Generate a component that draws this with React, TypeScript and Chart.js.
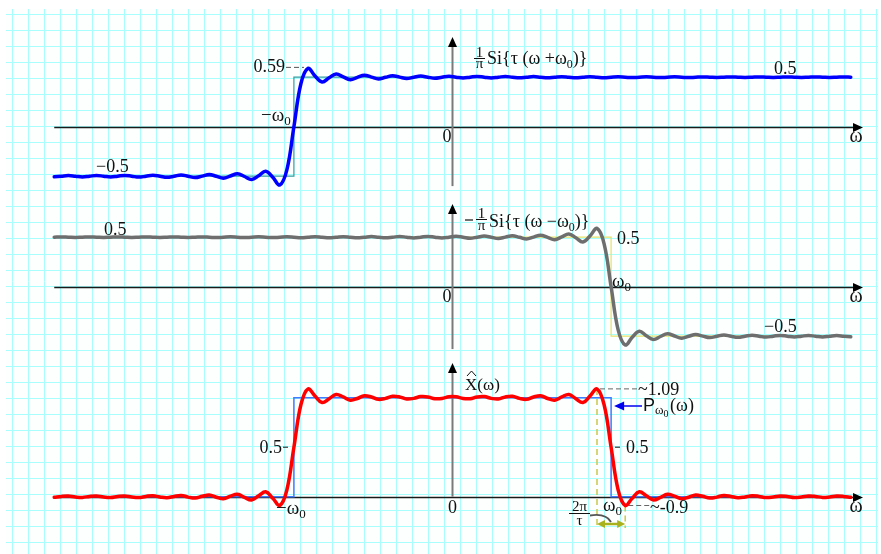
import React, { useEffect, useRef } from 'react';
import { Chart, registerables } from 'chart.js';

Chart.register(...registerables);

// ω sample positions (units of π/τ, ω0 = 11.25)
const OMEGA = [
  -28.25, -27.75, -27.25, -26.75, -26.25, -25.75, -25.25, -24.75, -24.25, -23.75,
  -23.25, -22.75, -22.25, -21.75, -21.25, -20.75, -20.25, -19.75, -19.25, -18.75,
  -18.25, -17.75, -17.25, -16.75, -16.25, -15.75, -15.25, -14.75, -14.25, -13.75,
  -13.25, -12.75, -12.25, -11.75, -11.25, -10.75, -10.25, -9.75, -9.25, -8.75,
  -8.25, -7.75, -7.25, -6.75, -6.25, -5.75, -5.25, -4.75, -4.25, -3.75,
  -3.25, -2.75, -2.25, -1.75, -1.25, -0.75, -0.25, 0.25, 0.75, 1.25,
  1.75, 2.25, 2.75, 3.25, 3.75, 4.25, 4.75, 5.25, 5.75, 6.25,
  6.75, 7.25, 7.75, 8.25, 8.75, 9.25, 9.75, 10.25, 10.75, 11.25,
  11.75, 12.25, 12.75, 13.25, 13.75, 14.25, 14.75, 15.25, 15.75, 16.25,
  16.75, 17.25, 17.75, 18.25, 18.75, 19.25, 19.75, 20.25, 20.75, 21.25,
  21.75, 22.25, 22.75, 23.25, 23.75, 24.25, 24.75, 25.25, 25.75, 26.25,
  26.75, 27.25, 27.75, 28.25,
];

const OMEGA0 = 11.25;

// (1/π) Si{τ(ω+ω0)}
const TOP_SERIES = [
  -0.506, -0.5, -0.494, -0.5, -0.507, -0.5, -0.493, -0.5, -0.508, -0.5,
  -0.492, -0.5, -0.509, -0.5, -0.49, -0.5, -0.511, -0.5, -0.487, -0.501,
  -0.514, -0.499, -0.483, -0.501, -0.52, -0.498, -0.475, -0.503, -0.533, -0.495,
  -0.451, -0.511, -0.589, -0.436, 0, 0.436, 0.589, 0.511, 0.451, 0.495,
  0.533, 0.503, 0.475, 0.498, 0.52, 0.501, 0.483, 0.499, 0.514, 0.501,
  0.487, 0.5, 0.511, 0.5, 0.49, 0.5, 0.509, 0.5, 0.492, 0.5,
  0.508, 0.5, 0.493, 0.5, 0.507, 0.5, 0.494, 0.5, 0.506, 0.5,
  0.494, 0.5, 0.505, 0.5, 0.495, 0.5, 0.505, 0.5, 0.495, 0.5,
  0.504, 0.5, 0.496, 0.5, 0.504, 0.5, 0.496, 0.5, 0.504, 0.5,
  0.496, 0.5, 0.503, 0.5, 0.497, 0.5, 0.503, 0.5, 0.497, 0.5,
  0.503, 0.5, 0.497, 0.5, 0.503, 0.5, 0.497, 0.5, 0.503, 0.5,
  0.497, 0.5, 0.503, 0.5,
];

// -(1/π) Si{τ(ω-ω0)}
const MIDDLE_SERIES = [
  0.5, 0.503, 0.5, 0.497, 0.5, 0.503, 0.5, 0.497, 0.5, 0.503,
  0.5, 0.497, 0.5, 0.503, 0.5, 0.497, 0.5, 0.503, 0.5, 0.497,
  0.5, 0.503, 0.5, 0.496, 0.5, 0.504, 0.5, 0.496, 0.5, 0.504,
  0.5, 0.496, 0.5, 0.504, 0.5, 0.495, 0.5, 0.505, 0.5, 0.495,
  0.5, 0.505, 0.5, 0.494, 0.5, 0.506, 0.5, 0.494, 0.5, 0.507,
  0.5, 0.493, 0.5, 0.508, 0.5, 0.492, 0.5, 0.509, 0.5, 0.49,
  0.5, 0.511, 0.5, 0.487, 0.501, 0.514, 0.499, 0.483, 0.501, 0.52,
  0.498, 0.475, 0.503, 0.533, 0.495, 0.451, 0.511, 0.589, 0.436, 0,
  -0.436, -0.589, -0.511, -0.451, -0.495, -0.533, -0.503, -0.475, -0.498, -0.52,
  -0.501, -0.483, -0.499, -0.514, -0.501, -0.487, -0.5, -0.511, -0.5, -0.49,
  -0.5, -0.509, -0.5, -0.492, -0.5, -0.508, -0.5, -0.493, -0.5, -0.507,
  -0.5, -0.494, -0.5, -0.506,
];

// X̂(ω)
const BOTTOM_SERIES = [
  -0.006, 0.003, 0.006, -0.003, -0.007, 0.003, 0.007, -0.003, -0.008, 0.003,
  0.008, -0.003, -0.009, 0.003, 0.01, -0.003, -0.011, 0.003, 0.013, -0.004,
  -0.014, 0.004, 0.017, -0.005, -0.02, 0.006, 0.025, -0.007, -0.033, 0.009,
  0.049, -0.015, -0.089, 0.068, 0.5, 0.931, 1.089, 1.016, 0.951, 0.99,
  1.033, 1.008, 0.975, 0.992, 1.02, 1.007, 0.983, 0.993, 1.014, 1.008,
  0.987, 0.993, 1.011, 1.008, 0.99, 0.992, 1.009, 1.009, 0.992, 0.99,
  1.008, 1.011, 0.993, 0.987, 1.008, 1.014, 0.993, 0.983, 1.007, 1.02,
  0.992, 0.975, 1.008, 1.033, 0.99, 0.951, 1.016, 1.089, 0.931, 0.5,
  0.068, -0.089, -0.015, 0.049, 0.009, -0.033, -0.007, 0.025, 0.006, -0.02,
  -0.005, 0.017, 0.004, -0.014, -0.004, 0.013, 0.003, -0.011, -0.003, 0.01,
  0.003, -0.009, -0.003, 0.008, 0.003, -0.008, -0.003, 0.007, 0.003, -0.007,
  -0.003, 0.006, 0.003, -0.006,
];

// ideal step / rectangle functions
const TOP_STEP_X = [-28.25, -11.25, -11.25, 28.25];
const TOP_STEP_Y = [-0.5, -0.5, 0.5, 0.5];
const MID_STEP_X = [-28.25, 11.25, 11.25, 28.25];
const MID_STEP_Y = [0.5, 0.5, -0.5, -0.5];
const RECT_X = [-28.25, -11.25, -11.25, 11.25, 11.25, 28.25];
const RECT_Y = [0, 0, 1, 1, 0, 0];

// annotated values
const TOP_PEAK = 0.589;
const BOTTOM_PEAK = 1.089;
const BOTTOM_TROUGH = -0.089;

// layout
const PANEL_OFFSETS = [0, -1.6162, -3.7374];
const X_MIN = -32.097;
const X_MAX = 30.394;
const Y_MIN = -4.3162;
const Y_MAX = 1.2798;

const SERIF = "'Liberation Serif', 'Times New Roman', serif";
const SANS = "'Liberation Sans', Arial, sans-serif";
const INK = '#111111';
const LBL = 18;

function pts(xs: number[], ys: number[], off: number) {
  return xs.map((x, i) => ({ x, y: ys[i] + off }));
}

function text(
  ctx: CanvasRenderingContext2D,
  s: string,
  x: number,
  y: number,
  size: number,
  align: CanvasTextAlign = 'left',
  font: string = SERIF,
  color: string = INK
): number {
  ctx.font = `${size}px ${font}`;
  ctx.fillStyle = color;
  ctx.textAlign = align;
  ctx.textBaseline = 'alphabetic';
  ctx.fillText(s, x, y);
  const w = ctx.measureText(s).width;
  if (align === 'right') return x;
  if (align === 'center') return x + w / 2;
  return x + w;
}

function seg(ctx: CanvasRenderingContext2D, x1: number, y1: number, x2: number, y2: number) {
  ctx.beginPath();
  ctx.moveTo(x1, y1);
  ctx.lineTo(x2, y2);
  ctx.stroke();
}

function tri(ctx: CanvasRenderingContext2D, p: number[][]) {
  ctx.beginPath();
  ctx.moveTo(p[0][0], p[0][1]);
  ctx.lineTo(p[1][0], p[1][1]);
  ctx.lineTo(p[2][0], p[2][1]);
  ctx.closePath();
  ctx.fill();
}

const overlay = {
  id: 'overlay',
  beforeDraw(chart: any) {
    const ctx = chart.ctx as CanvasRenderingContext2D;
    const W = chart.width;
    const H = chart.height;
    ctx.save();
    ctx.fillStyle = '#ffffff';
    ctx.fillRect(0, 0, W, H);
    ctx.fillStyle = '#fdfefe';
    ctx.fillRect(6, 9, 872, H - 9);
    ctx.strokeStyle = '#a8fdfd';
    ctx.lineWidth = 1;
    ctx.beginPath();
    for (let gx = 12.5; gx < 878; gx += 16) {
      ctx.moveTo(gx, 9);
      ctx.lineTo(gx, H);
    }
    for (let gy = 14.5; gy < H; gy += 16) {
      ctx.moveTo(6, gy);
      ctx.lineTo(878, gy);
    }
    ctx.stroke();
    ctx.restore();
  },
  beforeDatasetsDraw(chart: any) {
    const ctx = chart.ctx as CanvasRenderingContext2D;
    const xs = chart.scales.x;
    const ys = chart.scales.y;
    const X = (w: number) => xs.getPixelForValue(w);
    const Y = (v: number, p: number) => ys.getPixelForValue(v + PANEL_OFFSETS[p]);
    ctx.save();
    const xL = X(OMEGA[0]);
    const tip = 863;
    // horizontal axes
    for (let p = 0; p < 3; p++) {
      const ya = Math.round(Y(0, p)) + 0.5;
      ctx.strokeStyle = '#1a1a1a';
      ctx.lineWidth = 1.4;
      seg(ctx, xL, ya, tip - 6, ya);
      ctx.fillStyle = '#000';
      tri(ctx, [[tip, ya], [tip - 10, ya - 4.5], [tip - 10, ya + 4.5]]);
    }
    // vertical axes
    const x0 = X(0);
    const vr = [
      [Y(0.905, 0), Y(-0.6, 0)],
      [Y(0.835, 1), Y(-0.63, 1)],
      [Y(1.35, 2), Y(0, 2)],
    ];
    for (const [yt, yb] of vr) {
      ctx.strokeStyle = '#7a7a7a';
      ctx.lineWidth = 2;
      seg(ctx, x0, yb, x0, yt + 6);
      ctx.fillStyle = '#000';
      tri(ctx, [[x0, yt], [x0 - 4.5, yt + 10], [x0 + 4.5, yt + 10]]);
    }
    // top panel leader for 0.59
    ctx.strokeStyle = '#555';
    ctx.lineWidth = 1;
    ctx.setLineDash([5, 3]);
    const yTopPk = Y(TOP_PEAK, 0) - 1;
    seg(ctx, 286, yTopPk, X(-OMEGA0 + 1) - 4, yTopPk);
    // bottom panel: yellow dashed verticals
    const xp = X(OMEGA0 - 1);
    const xt = X(OMEGA0 + 1);
    const yPk = Y(BOTTOM_PEAK, 2);
    const yTr = Y(BOTTOM_TROUGH, 2);
    ctx.strokeStyle = '#c9c94a';
    ctx.lineWidth = 1.5;
    ctx.setLineDash([6, 4]);
    seg(ctx, xp, yPk, xp, 528);
    seg(ctx, xt, yTr, xt, 528);
    // gray leaders
    ctx.strokeStyle = '#666';
    ctx.lineWidth = 1;
    ctx.setLineDash([5, 3]);
    seg(ctx, xp + 3, yPk, 637, yPk);
    seg(ctx, xt + 3, yTr, 650, yTr);
    ctx.setLineDash([]);
    ctx.restore();
  },
  afterDatasetsDraw(chart: any) {
    const ctx = chart.ctx as CanvasRenderingContext2D;
    const xs = chart.scales.x;
    const ys = chart.scales.y;
    const X = (w: number) => xs.getPixelForValue(w);
    const Y = (v: number, p: number) => ys.getPixelForValue(v + PANEL_OFFSETS[p]);
    ctx.save();
    const x0 = X(0);
    const xw0 = X(OMEGA0);
    const a0 = Y(0, 0);
    const a1 = Y(0, 1);
    const a2 = Y(0, 2);

    // ---------- top panel ----------
    text(ctx, '0.59', 285, 71.5, LBL, 'right');
    let x = text(ctx, '\u2212\u03c9', 261, a0 - 5.5, 19);
    text(ctx, '0', x, a0 - 1.5, 13);
    text(ctx, '0', x0 - 5.5, a0 + 15.5, LBL, 'center');
    // formula 1/π Si{τ(ω+ω0)}
    text(ctx, '1', 479.5, 56.5, 15, 'center');
    ctx.strokeStyle = INK;
    ctx.lineWidth = 1;
    seg(ctx, 474, 58.5, 485, 58.5);
    text(ctx, '\u03c0', 479.5, 67.5, 15, 'center');
    x = text(ctx, 'Si{\u03c4 (\u03c9 +\u03c9', 487, 63.5, 18);
    x = text(ctx, '0', x, 67.5, 12);
    text(ctx, ')}', x, 63.5, 18);
    text(ctx, '\u22120.5', 96, 172, LBL);
    text(ctx, '0.5', 774, 73.5, LBL);
    text(ctx, '\u03c9', 856, a0 + 15.5, 20, 'center');

    // ---------- middle panel ----------
    text(ctx, '0.5', 104, 235, LBL);
    ctx.strokeStyle = INK;
    ctx.lineWidth = 1.2;
    seg(ctx, 465, 220, 473, 220);
    text(ctx, '1', 481.5, 218, 15, 'center');
    ctx.lineWidth = 1;
    seg(ctx, 476, 219.5, 487, 219.5);
    text(ctx, '\u03c0', 481.5, 229.5, 15, 'center');
    x = text(ctx, 'Si{\u03c4 (\u03c9 \u2212\u03c9', 489, 226.5, 18);
    x = text(ctx, '0', x, 230.5, 12);
    text(ctx, ')}', x, 226.5, 18);
    text(ctx, '0.5', 617, 243.5, LBL);
    x = text(ctx, '\u03c9', xw0 + 1, a1 + 0.5, 19);
    text(ctx, '0', x, a1 + 4, 13);
    text(ctx, '0', x0 - 5.5, a1 + 15.5, LBL, 'center');
    text(ctx, '\u22120.5', 764, 332, LBL);
    text(ctx, '\u03c9', 856, a1 + 15.5, 20, 'center');

    // ---------- bottom panel ----------
    x = text(ctx, 'X', 465, 390, 17);
    ctx.strokeStyle = INK;
    ctx.lineWidth = 1;
    ctx.beginPath();
    ctx.moveTo(467, 376);
    ctx.lineTo(471.5, 371);
    ctx.lineTo(476, 376);
    ctx.stroke();
    text(ctx, '(\u03c9)', x, 390, 17);
    text(ctx, '0.5', 282, 453, LBL, 'right');
    seg(ctx, 283, Y(0.5, 2), 288, Y(0.5, 2));
    x = text(ctx, '\u2212\u03c9', 276, a2 + 17, 19);
    text(ctx, '0', x, a2 + 21, 13);
    text(ctx, '0', x0, a2 + 16, LBL, 'center');
    text(ctx, '~1.09', 638, Y(BOTTOM_PEAK, 2) + 6, LBL);
    // P_ω0(ω) with blue arrow
    const yArr = 406;
    ctx.strokeStyle = '#0000ee';
    ctx.lineWidth = 1.5;
    seg(ctx, 642, yArr, xw0 + 9, yArr);
    ctx.fillStyle = '#0000ee';
    tri(ctx, [[xw0 + 3, yArr], [xw0 + 13, yArr - 4.5], [xw0 + 13, yArr + 4.5]]);
    x = text(ctx, 'P', 643, 411, 18, 'left', SANS);
    x = text(ctx, '\u03c9', x, 414, 13);
    x = text(ctx, '0', x, 417, 10);
    text(ctx, '(\u03c9)', x + 1.5, 411, 18);
    ctx.strokeStyle = INK;
    ctx.lineWidth = 1;
    seg(ctx, 615, Y(0.5, 2), 620, Y(0.5, 2));
    text(ctx, '0.5', 626, 453, LBL);
    // 2π/τ
    text(ctx, '2\u03c0', 579.5, 510.5, 15, 'center');
    seg(ctx, 569, 513.5, 590, 513.5);
    text(ctx, '\u03c4', 579.5, 525, 15, 'center');
    ctx.strokeStyle = '#555';
    ctx.lineWidth = 1.8;
    ctx.beginPath();
    ctx.moveTo(590, 515.5);
    ctx.quadraticCurveTo(606, 513, 611, 522);
    ctx.stroke();
    x = text(ctx, '\u03c9', 603, 511, 19);
    text(ctx, '0', x, 515, 13);
    text(ctx, '~-0.9', 650, 513, LBL);
    // yellow double arrow
    const xp = X(OMEGA0 - 1);
    const xt = X(OMEGA0 + 1);
    const yDa = 524;
    ctx.strokeStyle = '#a9b21c';
    ctx.fillStyle = '#a9b21c';
    ctx.lineWidth = 2.5;
    seg(ctx, xp + 6, yDa, xt - 6, yDa);
    tri(ctx, [[xp, yDa], [xp + 8, yDa - 4], [xp + 8, yDa + 4]]);
    tri(ctx, [[xt, yDa], [xt - 8, yDa - 4], [xt - 8, yDa + 4]]);
    text(ctx, '\u03c9', 856, a2 + 15.5, 20, 'center');
    ctx.restore();
  },
};

export default function App() {
  const ref = useRef<HTMLCanvasElement>(null);
  useEffect(() => {
    const canvas = ref.current;
    if (!canvas) return;
    const curve = (data: any, color: string) => ({
      data,
      borderColor: color,
      borderWidth: 3.5,
      tension: 0.4,
      pointRadius: 0,
      fill: false,
      order: 0,
      borderCapStyle: 'round',
      borderJoinStyle: 'round',
    });
    const step = (data: any, color: string, width: number) => ({
      data,
      borderColor: color,
      borderWidth: width,
      tension: 0,
      pointRadius: 0,
      fill: false,
      order: 1,
    });
    const chart = new Chart(canvas, {
      type: 'line',
      data: {
        datasets: [
          curve(pts(OMEGA, TOP_SERIES, PANEL_OFFSETS[0]), '#0000ff'),
          curve(pts(OMEGA, MIDDLE_SERIES, PANEL_OFFSETS[1]), '#6e6e6e'),
          curve(pts(OMEGA, BOTTOM_SERIES, PANEL_OFFSETS[2]), '#ff0000'),
          step(pts(TOP_STEP_X, TOP_STEP_Y, PANEL_OFFSETS[0]), '#2f9f9f', 1.2),
          step(pts(MID_STEP_X, MID_STEP_Y, PANEL_OFFSETS[1]), '#e3e36a', 1.2),
          step(pts(RECT_X, RECT_Y, PANEL_OFFSETS[2]), '#3d7bff', 1.5),
        ] as any,
      },
      options: {
        animation: false,
        responsive: false,
        devicePixelRatio: 1,
        events: [],
        layout: { padding: 0 },
        plugins: { legend: { display: false }, tooltip: { enabled: false } },
        scales: {
          x: { type: 'linear', min: X_MIN, max: X_MAX, display: false },
          y: { type: 'linear', min: Y_MIN, max: Y_MAX, display: false },
        },
      } as any,
      plugins: [overlay as any],
    });
    return () => chart.destroy();
  }, []);
  return (
    <div style={{ position: 'absolute', left: 0, top: 0, width: 881, height: 554 }}>
      <canvas ref={ref} width={881} height={554} style={{ display: 'block' }} />
    </div>
  );
}
